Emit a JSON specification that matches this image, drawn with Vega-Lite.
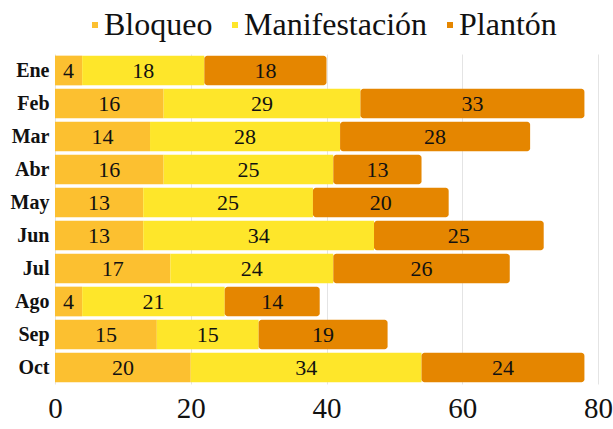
{
  "$schema": "https://vega.github.io/schema/vega-lite/v6.json",
  "width": 543,
  "height": 330,
  "autosize": "none",
  "padding": {"left": 55, "top": 54, "right": 15, "bottom": 45},
  "background": "white",
  "config": {
    "font": "Liberation Serif",
    "view": {"stroke": null}
  },
  "data": {
    "values": [
      {"mes": "Ene", "tipo": "Bloqueo", "orden": 1, "n": 4},
      {"mes": "Ene", "tipo": "Manifestación", "orden": 2, "n": 18},
      {"mes": "Ene", "tipo": "Plantón", "orden": 3, "n": 18},
      {"mes": "Feb", "tipo": "Bloqueo", "orden": 1, "n": 16},
      {"mes": "Feb", "tipo": "Manifestación", "orden": 2, "n": 29},
      {"mes": "Feb", "tipo": "Plantón", "orden": 3, "n": 33},
      {"mes": "Mar", "tipo": "Bloqueo", "orden": 1, "n": 14},
      {"mes": "Mar", "tipo": "Manifestación", "orden": 2, "n": 28},
      {"mes": "Mar", "tipo": "Plantón", "orden": 3, "n": 28},
      {"mes": "Abr", "tipo": "Bloqueo", "orden": 1, "n": 16},
      {"mes": "Abr", "tipo": "Manifestación", "orden": 2, "n": 25},
      {"mes": "Abr", "tipo": "Plantón", "orden": 3, "n": 13},
      {"mes": "May", "tipo": "Bloqueo", "orden": 1, "n": 13},
      {"mes": "May", "tipo": "Manifestación", "orden": 2, "n": 25},
      {"mes": "May", "tipo": "Plantón", "orden": 3, "n": 20},
      {"mes": "Jun", "tipo": "Bloqueo", "orden": 1, "n": 13},
      {"mes": "Jun", "tipo": "Manifestación", "orden": 2, "n": 34},
      {"mes": "Jun", "tipo": "Plantón", "orden": 3, "n": 25},
      {"mes": "Jul", "tipo": "Bloqueo", "orden": 1, "n": 17},
      {"mes": "Jul", "tipo": "Manifestación", "orden": 2, "n": 24},
      {"mes": "Jul", "tipo": "Plantón", "orden": 3, "n": 26},
      {"mes": "Ago", "tipo": "Bloqueo", "orden": 1, "n": 4},
      {"mes": "Ago", "tipo": "Manifestación", "orden": 2, "n": 21},
      {"mes": "Ago", "tipo": "Plantón", "orden": 3, "n": 14},
      {"mes": "Sep", "tipo": "Bloqueo", "orden": 1, "n": 15},
      {"mes": "Sep", "tipo": "Manifestación", "orden": 2, "n": 15},
      {"mes": "Sep", "tipo": "Plantón", "orden": 3, "n": 19},
      {"mes": "Oct", "tipo": "Bloqueo", "orden": 1, "n": 20},
      {"mes": "Oct", "tipo": "Manifestación", "orden": 2, "n": 34},
      {"mes": "Oct", "tipo": "Plantón", "orden": 3, "n": 24}
    ]
  },
  "transform": [
    {"stack": "n", "groupby": ["mes"], "sort": [{"field": "orden"}], "as": ["x0", "x1"]},
    {"calculate": "(datum.x0 + datum.x1) / 2", "as": "xm"}
  ],
  "encoding": {
    "y": {
      "field": "mes",
      "type": "nominal",
      "sort": ["Ene", "Feb", "Mar", "Abr", "May", "Jun", "Jul", "Ago", "Sep", "Oct"],
      "scale": {"paddingInner": 0.1, "paddingOuter": 0.05},
      "axis": {
        "title": null,
        "domain": false,
        "ticks": false,
        "labelFont": "Liberation Serif",
        "labelFontSize": 20,
        "labelFontWeight": "bold",
        "labelColor": "#111111",
        "labelPadding": 6
      }
    }
  },
  "layer": [
    {
      "transform": [{"filter": "datum.tipo !== 'Plantón'"}],
      "mark": {"type": "bar"},
      "encoding": {
        "x": {
          "field": "x0",
          "type": "quantitative",
          "scale": {"domain": [0, 80]},
          "axis": {
            "title": null,
            "values": [0, 20, 40, 60, 80],
            "domain": false,
            "ticks": false,
            "grid": true,
            "gridColor": "#e4e4e4",
            "labelFlush": false,
            "labelFont": "Liberation Serif",
            "labelFontSize": 29,
            "labelColor": "#111111",
            "labelPadding": 10
          }
        },
        "x2": {"field": "x1"},
        "color": {
          "field": "tipo",
          "type": "nominal",
          "scale": {
            "domain": ["Bloqueo", "Manifestación", "Plantón"],
            "range": ["#FCC030", "#FEE62A", "#E58600"]
          },
          "legend": {
            "title": null,
            "orient": "none",
            "direction": "horizontal",
            "legendX": 24,
            "legendY": -45,
            "symbolType": "square",
            "symbolSize": 36,
            "labelFont": "Liberation Serif",
            "labelFontSize": 32,
            "labelLimit": 400,
            "labelColor": "#111111",
            "labelOffset": -7,
            "columnPadding": 6
          }
        }
      }
    },
    {
      "transform": [{"filter": "datum.tipo === 'Plantón'"}],
      "mark": {"type": "bar", "cornerRadiusEnd": 3},
      "encoding": {
        "x": {"field": "x0", "type": "quantitative"},
        "x2": {"field": "x1"},
        "color": {"field": "tipo", "type": "nominal"}
      }
    },
    {
      "mark": {"type": "text", "font": "Liberation Serif", "fontSize": 22, "color": "#111111", "baseline": "middle", "align": "center"},
      "encoding": {
        "x": {"field": "xm", "type": "quantitative"},
        "text": {"field": "n", "type": "quantitative"}
      }
    }
  ]
}
